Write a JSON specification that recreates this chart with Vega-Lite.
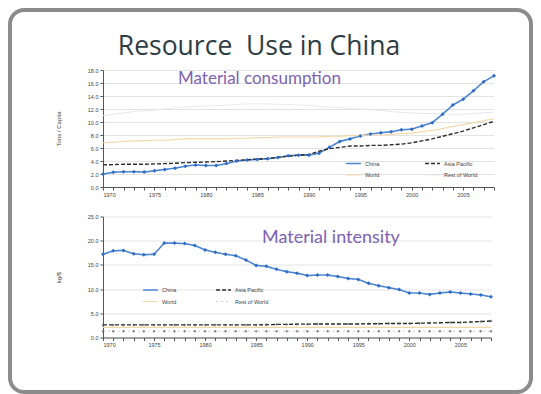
{
  "$schema": "https://vega.github.io/schema/vega-lite/v6.json",
  "background": "white",
  "padding": {"left": 8, "top": 8, "right": 8, "bottom": 1},
  "datasets": {
    "consumption": [
      {"year": 1970, "China": 2.0, "Asia Pacific": 3.4, "World": 6.8, "Rest of World": 11.0},
      {"year": 1971, "China": 2.26, "Asia Pacific": 3.45, "World": 6.9, "Rest of World": 11.2},
      {"year": 1972, "China": 2.35, "Asia Pacific": 3.5, "World": 7.0, "Rest of World": 11.4},
      {"year": 1973, "China": 2.35, "Asia Pacific": 3.5, "World": 7.1, "Rest of World": 11.6},
      {"year": 1974, "China": 2.3, "Asia Pacific": 3.5, "World": 7.1, "Rest of World": 11.7},
      {"year": 1975, "China": 2.5, "Asia Pacific": 3.55, "World": 7.2, "Rest of World": 11.8},
      {"year": 1976, "China": 2.7, "Asia Pacific": 3.6, "World": 7.2, "Rest of World": 12.0},
      {"year": 1977, "China": 2.9, "Asia Pacific": 3.65, "World": 7.3, "Rest of World": 12.2},
      {"year": 1978, "China": 3.2, "Asia Pacific": 3.75, "World": 7.4, "Rest of World": 12.3},
      {"year": 1979, "China": 3.4, "Asia Pacific": 3.8, "World": 7.4, "Rest of World": 12.4},
      {"year": 1980, "China": 3.3, "Asia Pacific": 3.85, "World": 7.4, "Rest of World": 12.5},
      {"year": 1981, "China": 3.3, "Asia Pacific": 3.9, "World": 7.4, "Rest of World": 12.5},
      {"year": 1982, "China": 3.6, "Asia Pacific": 4.0, "World": 7.4, "Rest of World": 12.6},
      {"year": 1983, "China": 4.0, "Asia Pacific": 4.1, "World": 7.5, "Rest of World": 12.7},
      {"year": 1984, "China": 4.15, "Asia Pacific": 4.2, "World": 7.5, "Rest of World": 12.8},
      {"year": 1985, "China": 4.25, "Asia Pacific": 4.3, "World": 7.6, "Rest of World": 12.8},
      {"year": 1986, "China": 4.35, "Asia Pacific": 4.4, "World": 7.6, "Rest of World": 12.8},
      {"year": 1987, "China": 4.55, "Asia Pacific": 4.55, "World": 7.7, "Rest of World": 12.7},
      {"year": 1988, "China": 4.8, "Asia Pacific": 4.75, "World": 7.7, "Rest of World": 12.7},
      {"year": 1989, "China": 4.9, "Asia Pacific": 4.9, "World": 7.7, "Rest of World": 12.6},
      {"year": 1990, "China": 4.9, "Asia Pacific": 5.0, "World": 7.7, "Rest of World": 12.6},
      {"year": 1991, "China": 5.2, "Asia Pacific": 5.5, "World": 7.7, "Rest of World": 12.4},
      {"year": 1992, "China": 6.1, "Asia Pacific": 5.9, "World": 7.8, "Rest of World": 12.3},
      {"year": 1993, "China": 7.0, "Asia Pacific": 6.1, "World": 7.8, "Rest of World": 12.2},
      {"year": 1994, "China": 7.4, "Asia Pacific": 6.3, "World": 7.9, "Rest of World": 12.1},
      {"year": 1995, "China": 7.85, "Asia Pacific": 6.3, "World": 7.9, "Rest of World": 12.0},
      {"year": 1996, "China": 8.15, "Asia Pacific": 6.4, "World": 8.0, "Rest of World": 11.9},
      {"year": 1997, "China": 8.35, "Asia Pacific": 6.4, "World": 8.0, "Rest of World": 11.8},
      {"year": 1998, "China": 8.5, "Asia Pacific": 6.5, "World": 8.1, "Rest of World": 11.6},
      {"year": 1999, "China": 8.8, "Asia Pacific": 6.6, "World": 8.2, "Rest of World": 11.5},
      {"year": 2000, "China": 8.9, "Asia Pacific": 6.8, "World": 8.3, "Rest of World": 11.4},
      {"year": 2001, "China": 9.4, "Asia Pacific": 7.1, "World": 8.5, "Rest of World": 11.3},
      {"year": 2002, "China": 9.9, "Asia Pacific": 7.4, "World": 8.7, "Rest of World": 11.3},
      {"year": 2003, "China": 11.2, "Asia Pacific": 7.8, "World": 9.0, "Rest of World": 11.2},
      {"year": 2004, "China": 12.6, "Asia Pacific": 8.2, "World": 9.3, "Rest of World": 11.2},
      {"year": 2005, "China": 13.5, "Asia Pacific": 8.6, "World": 9.6, "Rest of World": 11.2},
      {"year": 2006, "China": 14.8, "Asia Pacific": 9.1, "World": 9.9, "Rest of World": 11.3},
      {"year": 2007, "China": 16.2, "Asia Pacific": 9.6, "World": 10.2, "Rest of World": 11.4},
      {"year": 2008, "China": 17.1, "Asia Pacific": 10.1, "World": 10.5, "Rest of World": 11.5}
    ],
    "intensity": [
      {"year": 1970, "China": 17.2, "Asia Pacific": 2.6, "World": 2.1, "Rest of World": 1.3},
      {"year": 1971, "China": 17.9, "Asia Pacific": 2.6, "World": 2.1, "Rest of World": 1.3},
      {"year": 1972, "China": 18.0, "Asia Pacific": 2.6, "World": 2.1, "Rest of World": 1.3},
      {"year": 1973, "China": 17.3, "Asia Pacific": 2.6, "World": 2.1, "Rest of World": 1.3},
      {"year": 1974, "China": 17.1, "Asia Pacific": 2.6, "World": 2.1, "Rest of World": 1.3},
      {"year": 1975, "China": 17.2, "Asia Pacific": 2.6, "World": 2.1, "Rest of World": 1.3},
      {"year": 1976, "China": 19.5, "Asia Pacific": 2.6, "World": 2.1, "Rest of World": 1.3},
      {"year": 1977, "China": 19.5, "Asia Pacific": 2.6, "World": 2.1, "Rest of World": 1.3},
      {"year": 1978, "China": 19.4, "Asia Pacific": 2.6, "World": 2.1, "Rest of World": 1.3},
      {"year": 1979, "China": 19.0, "Asia Pacific": 2.6, "World": 2.1, "Rest of World": 1.3},
      {"year": 1980, "China": 18.1, "Asia Pacific": 2.6, "World": 2.1, "Rest of World": 1.3},
      {"year": 1981, "China": 17.6, "Asia Pacific": 2.6, "World": 2.1, "Rest of World": 1.3},
      {"year": 1982, "China": 17.2, "Asia Pacific": 2.6, "World": 2.1, "Rest of World": 1.3},
      {"year": 1983, "China": 16.9, "Asia Pacific": 2.6, "World": 2.1, "Rest of World": 1.3},
      {"year": 1984, "China": 16.0, "Asia Pacific": 2.6, "World": 2.1, "Rest of World": 1.3},
      {"year": 1985, "China": 14.9, "Asia Pacific": 2.6, "World": 2.1, "Rest of World": 1.3},
      {"year": 1986, "China": 14.7, "Asia Pacific": 2.65, "World": 2.1, "Rest of World": 1.3},
      {"year": 1987, "China": 14.1, "Asia Pacific": 2.7, "World": 2.1, "Rest of World": 1.3},
      {"year": 1988, "China": 13.6, "Asia Pacific": 2.7, "World": 2.1, "Rest of World": 1.3},
      {"year": 1989, "China": 13.3, "Asia Pacific": 2.75, "World": 2.1, "Rest of World": 1.3},
      {"year": 1990, "China": 12.8, "Asia Pacific": 2.75, "World": 2.1, "Rest of World": 1.3},
      {"year": 1991, "China": 12.9, "Asia Pacific": 2.8, "World": 2.1, "Rest of World": 1.3},
      {"year": 1992, "China": 12.9, "Asia Pacific": 2.8, "World": 2.1, "Rest of World": 1.3},
      {"year": 1993, "China": 12.6, "Asia Pacific": 2.8, "World": 2.1, "Rest of World": 1.3},
      {"year": 1994, "China": 12.2, "Asia Pacific": 2.8, "World": 2.1, "Rest of World": 1.3},
      {"year": 1995, "China": 12.0, "Asia Pacific": 2.8, "World": 2.1, "Rest of World": 1.3},
      {"year": 1996, "China": 11.2, "Asia Pacific": 2.85, "World": 2.1, "Rest of World": 1.3},
      {"year": 1997, "China": 10.7, "Asia Pacific": 2.85, "World": 2.1, "Rest of World": 1.3},
      {"year": 1998, "China": 10.3, "Asia Pacific": 2.9, "World": 2.1, "Rest of World": 1.3},
      {"year": 1999, "China": 9.9, "Asia Pacific": 2.9, "World": 2.1, "Rest of World": 1.3},
      {"year": 2000, "China": 9.2, "Asia Pacific": 2.9, "World": 2.1, "Rest of World": 1.3},
      {"year": 2001, "China": 9.2, "Asia Pacific": 2.95, "World": 2.1, "Rest of World": 1.3},
      {"year": 2002, "China": 8.9, "Asia Pacific": 3.0, "World": 2.1, "Rest of World": 1.3},
      {"year": 2003, "China": 9.2, "Asia Pacific": 3.05, "World": 2.1, "Rest of World": 1.3},
      {"year": 2004, "China": 9.4, "Asia Pacific": 3.1, "World": 2.1, "Rest of World": 1.3},
      {"year": 2005, "China": 9.2, "Asia Pacific": 3.1, "World": 2.1, "Rest of World": 1.3},
      {"year": 2006, "China": 9.0, "Asia Pacific": 3.2, "World": 2.1, "Rest of World": 1.3},
      {"year": 2007, "China": 8.8, "Asia Pacific": 3.3, "World": 2.1, "Rest of World": 1.3},
      {"year": 2008, "China": 8.4, "Asia Pacific": 3.4, "World": 2.1, "Rest of World": 1.3}
    ]
  },
  "bounds": "flush",
  "spacing": 29.5,
  "resolve": {
    "scale": {"color": "independent", "strokeDash": "independent", "strokeWidth": "independent", "fill": "independent"},
    "legend": {"color": "independent", "strokeDash": "independent", "fill": "independent"}
  },
  "vconcat": [
    {
      "width": 391,
      "height": 117,
      "title": {"text": "Material consumption", "font": "Lato", "fontSize": 17, "fontWeight": "normal", "color": "#7e62b3", "anchor": "start", "frame": "group", "dx": 75, "offset": -80},
      "data": {"name": "consumption"},
      "transform": [{"fold": ["China", "Asia Pacific", "World", "Rest of World"], "as": ["series", "value"]}],
      "encoding": {
        "x": {"field": "year", "type": "quantitative", "scale": {"domain": [1970, 2008], "nice": false, "zero": false},
          "axis": {"title": null, "values": [1970,1971,1972,1973,1974,1975,1976,1977,1978,1979,1980,1981,1982,1983,1984,1985,1986,1987,1988,1989,1990,1991,1992,1993,1994,1995,1996,1997,1998,1999,2000,2001,2002,2003,2004,2005,2006,2007,2008], "labelExpr": "datum.value % 5 === 0 ? format(datum.value, 'd') : ''", "grid": false}},
        "y": {"field": "value", "type": "quantitative", "scale": {"domain": [0, 18], "nice": false},
          "axis": {"title": "Tons / Capita", "values": [0,2,4,6,8,10,12,14,16,18], "format": ".1f"}}
      },
      "layer": [
        {
          "mark": {"type": "point", "opacity": 0},
          "encoding": {
            "fill": {"field": "year", "type": "quantitative",
              "scale": {"range": ["rgba(255,255,255,0)", "rgba(255,255,255,0)"]},
              "legend": {"orient": "none", "legendX": -93, "legendY": -60, "direction": "horizontal",
                "title": "Resource\u00a0 Use in China", "titleFont": "Open Sans", "titleFontSize": 26.5, "titleFontWeight": "normal", "titleColor": "#2e3c44", "titleAnchor": "middle", "titlePadding": 0, "titleLimit": 600,
                "gradientLength": 473, "gradientThickness": 306, "gradientStrokeWidth": 0, "gradientOpacity": 0,
                "labelOpacity": 0, "labelFontSize": 1, "labelOffset": 0,
                "strokeColor": "#8c8c8c", "cornerRadius": 14, "padding": 24,
                "encoding": {"legend": {"strokeWidth": {"value": 4}}}}
            }
          }
        },
        {
          "mark": {"type": "line"},
          "encoding": {
            "color": {"field": "series", "type": "nominal", "scale": {"domain": ["China", "Asia Pacific", "World", "Rest of World"], "range": ["#4a86d2", "#2b2b2b", "#f3d6a8", "#dfe4ec"]},
              "legend": {"orient": "none", "direction": "horizontal", "legendX": 242, "legendY": 85, "columns": 2, "columnPadding": 42, "title": null}},
            "strokeDash": {"field": "series", "type": "nominal", "scale": {"domain": ["China", "Asia Pacific", "World", "Rest of World"], "range": [[1, 0], [4, 2], [1, 0], [1, 0]]},
              "legend": {"orient": "none", "direction": "horizontal", "legendX": 242, "legendY": 85, "columns": 2, "columnPadding": 42, "title": null}},
            "strokeWidth": {"field": "series", "type": "nominal", "scale": {"domain": ["China", "Asia Pacific", "World", "Rest of World"], "range": [1.6, 0.9, 3, 1.2]}, "legend": null}
          }
        },
        {
          "transform": [{"filter": "datum.series === 'China'"}],
          "mark": {"type": "point", "shape": "diamond", "filled": true, "size": 16, "color": "#2f6cc2", "opacity": 1}
        }
      ]
    },
    {
      "width": 388,
      "height": 121,
      "title": {"text": "Material intensity", "font": "Lato", "fontSize": 18, "fontWeight": "normal", "color": "#7e62b3", "anchor": "start", "frame": "group", "dx": 159, "offset": -32},
      "data": {"name": "intensity"},
      "transform": [{"fold": ["China", "Asia Pacific", "World", "Rest of World"], "as": ["series", "value"]}],
      "encoding": {
        "x": {"field": "year", "type": "quantitative", "scale": {"domain": [1970, 2008], "nice": false, "zero": false},
          "axis": {"title": null, "values": [1970,1971,1972,1973,1974,1975,1976,1977,1978,1979,1980,1981,1982,1983,1984,1985,1986,1987,1988,1989,1990,1991,1992,1993,1994,1995,1996,1997,1998,1999,2000,2001,2002,2003,2004,2005,2006,2007,2008], "labelExpr": "datum.value % 5 === 0 ? format(datum.value, 'd') : ''", "grid": false}},
        "y": {"field": "value", "type": "quantitative", "scale": {"domain": [0, 25], "nice": false},
          "axis": {"title": "kg/$", "values": [0,5,10,15,20,25], "format": ".1f"}}
      },
      "layer": [
        {
          "mark": {"type": "line"},
          "encoding": {
            "color": {"field": "series", "type": "nominal", "scale": {"domain": ["China", "Asia Pacific", "World", "Rest of World"], "range": ["#4a86d2", "#2b2b2b", "#f3d6a8", "#c9ced6"]},
              "legend": {"orient": "none", "direction": "horizontal", "legendX": 39, "legendY": 65, "columns": 2, "columnPadding": 36, "title": null}},
            "strokeDash": {"field": "series", "type": "nominal", "scale": {"domain": ["China", "Asia Pacific", "World", "Rest of World"], "range": [[1, 0], [4, 2], [1, 0], [2, 3]]},
              "legend": {"orient": "none", "direction": "horizontal", "legendX": 39, "legendY": 65, "columns": 2, "columnPadding": 36, "title": null}},
            "strokeWidth": {"field": "series", "type": "nominal", "scale": {"domain": ["China", "Asia Pacific", "World", "Rest of World"], "range": [1.6, 0.9, 2, 0.8]}, "legend": null}
          }
        },
        {
          "transform": [{"filter": "datum.series === 'China'"}],
          "mark": {"type": "point", "shape": "diamond", "filled": true, "size": 16, "color": "#2f6cc2", "opacity": 1}
        },
        {
          "transform": [{"filter": "datum.series === 'Asia Pacific' || datum.series === 'Rest of World'"}],
          "mark": {"type": "point", "shape": "cross", "filled": true, "size": 6, "color": "#555555", "opacity": 0.8}
        }
      ]
    }
  ],
  "config": {
    "view": {"stroke": null},
    "font": "Liberation Sans",
    "axis": {
      "labelFont": "Liberation Sans", "labelFontSize": 5.5, "labelColor": "#444444",
      "titleFont": "Liberation Sans", "titleFontSize": 6, "titleFontWeight": "normal", "titleColor": "#444444",
      "domainColor": "#555555", "tickColor": "#555555", "tickSize": 3, "labelPadding": 2,
      "gridColor": "#dcdcdc", "gridWidth": 0.8, "labelOverlap": false, "labelBound": false
    },
    "axisY": {"titlePadding": 26},
    "legend": {"labelFont": "Liberation Sans", "labelFontSize": 5.5, "labelColor": "#444444", "symbolType": "stroke", "symbolSize": 220, "rowPadding": -3, "labelOffset": 3, "symbolStrokeWidth": 1.2}
  }
}
